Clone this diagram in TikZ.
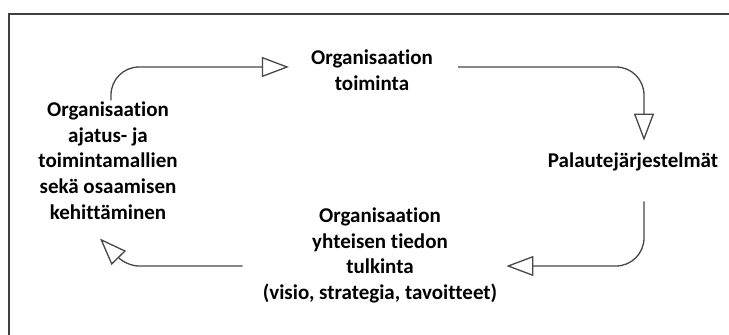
\documentclass[tikz,border=0pt]{standalone}
\usepackage{fontspec}
\setmainfont{Carlito}[Ligatures=NoCommon]
\usetikzlibrary{arrows.meta,positioning}

\begin{document}
\begin{tikzpicture}
  [every node/.style={align=center, inner sep=0pt,
     font=\bfseries\fontsize{21}{25.7}\selectfont},
   loop/.style={draw=black!72, line width=1.3pt, rounded corners=28pt,
     -{Triangle[open, length=27pt, width=20pt, fill=white]}}]
  \useasboundingbox (0,0) rectangle (729pt,-335pt);
  \draw[black!75, line width=1.5pt] (9pt,-335pt) -- (9pt,-14pt) -- (729pt,-14pt);

  \node (action) at (372pt,-70pt) {Organisaation\\toiminta};
  \node (feedback) at (633pt,-162pt) {Palautejärjestelmät};
  \node (interpret) at (380pt,-255.5pt) {Organisaation\\yhteisen tiedon\\tulkinta\\(visio, strategia, tavoitteet)};
  \node (develop) at (108pt,-160.5pt) {Organisaation\\ajatus- ja\\toimintamallien\\sekä osaamisen\\kehittäminen};

  \draw[loop] ([shift={(3pt,1pt)}]develop.north) |- ([shift={(-22pt,3pt)}]action.west);
  \draw[loop] ([shift={(25pt,3pt)}]action.east) -| ([shift={(11pt,12pt)}]feedback.north);
  \draw[loop] ([shift={(11pt,-30pt)}]feedback.south) |- ([shift={(9pt,-10.5pt)}]interpret.east);
  \draw[loop, rounded corners=12pt] ([shift={(-20pt,-10.5pt)}]interpret.west) -- ++(-116pt,0)
    -- ([shift={(-8pt,-19pt)}]develop.south);
\end{tikzpicture}
\end{document}
